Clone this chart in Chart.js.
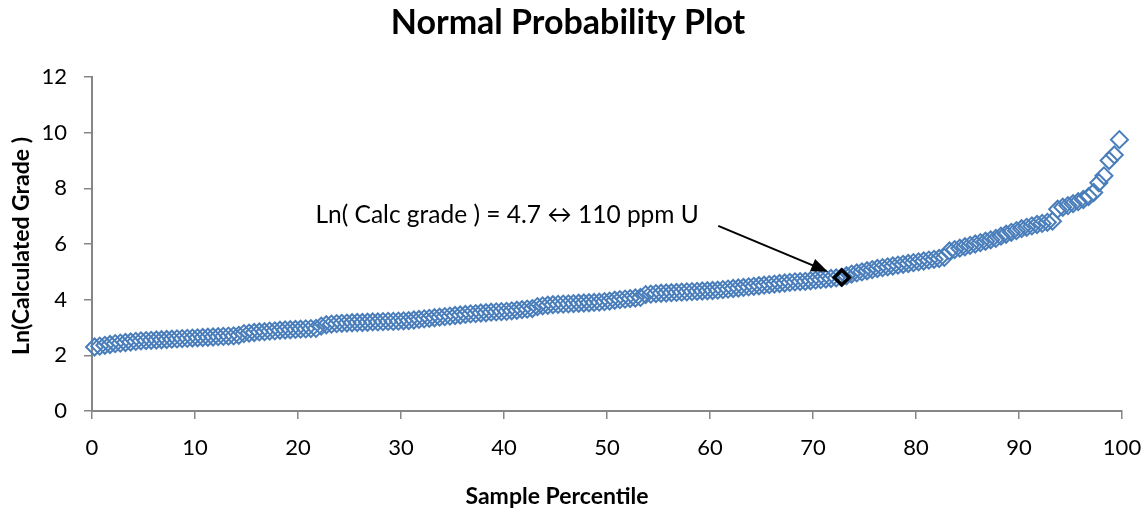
<!DOCTYPE html>
<html>
<head>
<meta charset="utf-8">
<script src="https://cdn.jsdelivr.net/npm/chart.js@4/dist/chart.umd.min.js"></script>
<style>
  html, body { margin: 0; padding: 0; background: #fff; }
</style>
</head>
<body>
<canvas id="myChart" width="1148" height="515"></canvas>
<script>
// sorted Ln(calculated grade) values, one per sample
const lnGrade = [
  2.30, 2.33, 2.36, 2.39, 2.42, 2.44, 2.46, 2.48, 2.50, 2.52,
  2.53, 2.54, 2.55, 2.56, 2.57, 2.58, 2.59, 2.60, 2.61, 2.62,
  2.63, 2.64, 2.65, 2.66, 2.67, 2.68, 2.69, 2.70, 2.72, 2.78,
  2.80, 2.82, 2.84, 2.85, 2.87, 2.88, 2.90, 2.91, 2.92, 2.93,
  2.94, 2.95, 2.96, 2.97, 3.05, 3.10, 3.12, 3.14, 3.15, 3.16,
  3.17, 3.18, 3.18, 3.19, 3.20, 3.20, 3.21, 3.22, 3.22, 3.23,
  3.24, 3.25, 3.27, 3.29, 3.31, 3.33, 3.35, 3.37, 3.39, 3.41,
  3.43, 3.45, 3.47, 3.49, 3.50, 3.52, 3.53, 3.55, 3.56, 3.57,
  3.58, 3.60, 3.62, 3.64, 3.66, 3.68, 3.75, 3.78, 3.80, 3.82,
  3.83, 3.84, 3.85, 3.86, 3.87, 3.88, 3.89, 3.90, 3.91, 3.93,
  3.95, 3.98, 4.00, 4.02, 4.04, 4.06, 4.08, 4.18, 4.20, 4.22,
  4.23, 4.24, 4.25, 4.26, 4.27, 4.28, 4.29, 4.30, 4.31, 4.32,
  4.33, 4.34, 4.36, 4.38, 4.40, 4.42, 4.44, 4.46, 4.48, 4.50,
  4.52, 4.54, 4.56, 4.58, 4.60, 4.62, 4.64, 4.65, 4.66, 4.68,
  4.70, 4.72, 4.74, 4.76, 4.78, 4.80, 4.86, 4.92, 4.96, 5.00,
  5.04, 5.08, 5.12, 5.15, 5.18, 5.21, 5.24, 5.27, 5.30, 5.33,
  5.36, 5.39, 5.42, 5.45, 5.48, 5.52, 5.75, 5.80, 5.85, 5.90,
  5.95, 6.00, 6.05, 6.10, 6.15, 6.20, 6.28, 6.35, 6.42, 6.48,
  6.55, 6.60, 6.65, 6.70, 6.74, 6.78, 6.82, 7.25, 7.32, 7.38,
  7.45, 7.52, 7.60, 7.70, 7.85, 8.20, 8.45, 9.00, 9.20, 9.75
];

const xTicks = [0, 10, 20, 30, 40, 50, 60, 70, 80, 90, 100];
const yTicks = [0, 2, 4, 6, 8, 10, 12];

const markedX = [72.8];
const markedY = [4.8];

const chartTitle = 'Normal Probability Plot';
const xTitle = 'Sample Percentile';
const yTitle = 'Ln(Calculated Grade )';
const noteText = 'Ln( Calc grade ) = 4.7 \u2194 110 ppm U';

// sample percentile of each ranked value: (rank - 0.5) / n
const n = lnGrade.length;
const points = [];
for (let i = 0; i < n; i++) {
  points.push({ x: (i + 0.5) / n * 100, y: lnGrade[i] });
}
const marked = markedX.map((x, i) => ({ x: x, y: markedY[i] }));

const axisGrey = '#868686';
const blue = '#4a7ebb';
const font = 'Lato, "Open Sans", sans-serif';

// titles, note and arrow
const extras = {
  id: 'extras',
  afterDraw(chart) {
    const ctx = chart.ctx;
    const xs = chart.scales.x, ys = chart.scales.y;
    ctx.save();
    ctx.fillStyle = '#000';

    ctx.font = 'bold 34px ' + font;
    ctx.textAlign = 'center';
    ctx.textBaseline = 'middle';
    ctx.fillText(chartTitle, 568, 23);

    ctx.font = 'bold 23px ' + font;
    ctx.fillText(xTitle, 557, 497);

    ctx.save();
    ctx.translate(22, 246);
    ctx.rotate(-Math.PI / 2);
    ctx.fillText(yTitle, 0, 0);
    ctx.restore();

    // note
    ctx.font = '24.5px ' + font;
    ctx.textAlign = 'left';
    ctx.fillText(noteText, xs.getPixelForValue(21.7), ys.getPixelForValue(7.04));

    // arrow to the marked point
    const x1 = xs.getPixelForValue(60.8), y1 = ys.getPixelForValue(6.65);
    const px = xs.getPixelForValue(markedX[0]), py = ys.getPixelForValue(markedY[0]);
    const ang = Math.atan2(py - y1, px - x1);
    const x2 = px - Math.cos(ang) * 15, y2 = py - Math.sin(ang) * 15;
    ctx.strokeStyle = '#000';
    ctx.lineWidth = 2;
    ctx.beginPath();
    ctx.moveTo(x1, y1);
    ctx.lineTo(x2 - Math.cos(ang) * 8, y2 - Math.sin(ang) * 8);
    ctx.stroke();
    ctx.beginPath();
    ctx.moveTo(x2, y2);
    ctx.lineTo(x2 - Math.cos(ang - 0.38) * 18, y2 - Math.sin(ang - 0.38) * 18);
    ctx.lineTo(x2 - Math.cos(ang + 0.38) * 18, y2 - Math.sin(ang + 0.38) * 18);
    ctx.closePath();
    ctx.fill();
    ctx.restore();
  }
};

const config = {
  type: 'scatter',
  data: {
    datasets: [
      {
        label: 'marked',
        data: marked,
        pointStyle: 'rectRot',
        pointRadius: 7.5,
        borderWidth: 3.5,
        borderColor: '#000',
        backgroundColor: 'rgba(0,0,0,0)',
        clip: false
      },
      {
        label: 'Ln grade',
        data: points,
        pointStyle: 'rectRot',
        pointRadius: 8.5,
        borderWidth: 2,
        borderColor: blue,
        backgroundColor: 'rgba(0,0,0,0)',
        clip: false
      }
    ]
  },
  options: {
    responsive: false,
    animation: false,
    events: [],
    layout: { padding: { top: 77, right: 26, left: 0, bottom: 0 } },
    plugins: {
      legend: { display: false },
      title: { display: false },
      tooltip: { enabled: false }
    },
    scales: {
      x: {
        type: 'linear',
        min: 0,
        max: 100,
        afterBuildTicks: s => { s.ticks = xTicks.map(v => ({ value: v })); },
        afterFit: s => { s.height = 104; s.paddingLeft = 0; s.paddingRight = 0; },
        ticks: { color: '#000', font: { family: font, size: 22 }, padding: 16, maxRotation: 0 },
        grid: { drawOnChartArea: false, tickLength: 8, color: axisGrey, lineWidth: 1.5 },
        border: { color: axisGrey, width: 2 }
      },
      y: {
        type: 'linear',
        min: 0,
        max: 12,
        afterBuildTicks: s => { s.ticks = yTicks.map(v => ({ value: v })); },
        afterFit: s => { s.width = 92; s.paddingTop = 0; s.paddingBottom = 0; },
        ticks: { color: '#000', font: { family: font, size: 22 }, padding: 17 },
        grid: { drawOnChartArea: false, tickLength: 8, color: axisGrey, lineWidth: 1.5 },
        border: { color: axisGrey, width: 2 }
      }
    }
  },
  plugins: [extras]
};

const myChart = new Chart(document.getElementById('myChart'), config);
</script>
</body>
</html>
